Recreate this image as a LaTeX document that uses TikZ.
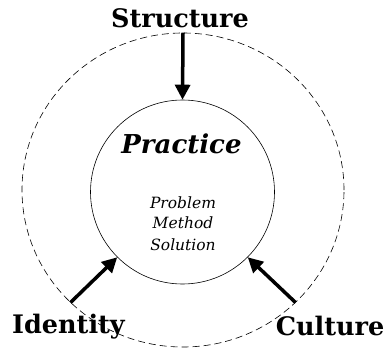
\documentclass[tikz,border=0pt]{standalone}
\usepackage{fontspec}
\setmainfont{DejaVu Serif}
\usetikzlibrary{arrows.meta,shapes.geometric}
\tikzset{
  force/.style={line width=3.5pt, -{Triangle[length=15pt,width=15pt]}},
  label/.style={font=\fontsize{25.5}{30}\selectfont\bfseries, anchor=base, inner sep=1pt},
  item/.style={font=\fontsize{15.5}{18}\selectfont\itshape, anchor=base, inner sep=0pt}
}
\begin{document}
\begin{tikzpicture}[x=1pt,y=1pt]
  \useasboundingbox (0,0) rectangle (387,349);
  \node (outer) [draw, ellipse, dash pattern=on 7pt off 4pt, line width=0.6pt,
    inner sep=0pt, minimum width=322, minimum height=314] at (183,159) {};
  \node (inner) [draw, circle, line width=0.6pt, inner sep=0pt, minimum size=184] at (182.5,157) {};
  \node (structure) [label] at (180,321) {Structure};
  \node (identity) [label] at (68.5,16) {Identity};
  \node (culture) [label] at (330,14) {Culture};
  \node (practice) [font=\fontsize{26}{30}\selectfont\bfseries\itshape, anchor=base] at (181.5,196) {Practice};
  \node (problem) [item] at (183,141) {Problem};
  \node (method) [item] at (183,121) {Method};
  \node (solution) [item] at (183,99) {Solution};
  \draw [force] (outer.90) -- (inner.90);
  \draw [force] (outer.225) -- (inner.225);
  \draw [force] (outer.-45) -- (inner.-45);
\end{tikzpicture}
\end{document}
